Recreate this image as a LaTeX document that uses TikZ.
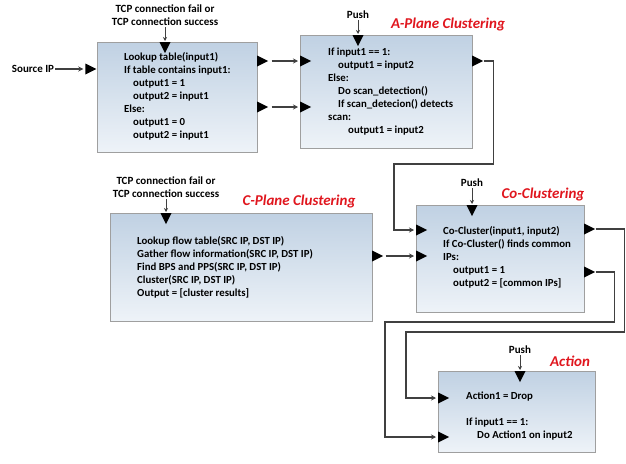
\documentclass[tikz,border=0pt]{standalone}
\usepackage{fontspec}
\setmainfont{Carlito}
\usetikzlibrary{shapes.geometric, arrows.meta}

\definecolor{boxtop}{HTML}{C0D1E3}
\definecolor{boxbot}{HTML}{EEF3F8}
\definecolor{wirec}{HTML}{404040}
\definecolor{titlered}{HTML}{E0161E}

\begin{document}
\begin{tikzpicture}[x = 1pt, y = -1pt,
  block/.style = {draw=gray!75, line width=0.6pt, top color=boxtop, bottom color=boxbot, anchor=north west, inner sep=0pt},
  code/.style = {anchor=north west, align=left, inner sep=0pt, font=\fontsize{10.8}{13}\selectfont\bfseries},
  lbl/.style = {align=center, inner sep=1pt, font=\fontsize{11}{13.5}\selectfont\bfseries},
  title/.style = {text=titlered, font=\fontsize{15}{17}\selectfont\bfseries\itshape},
  port/.style = {isosceles triangle, isosceles triangle stretches, fill=black, inner sep=0pt, minimum width=11pt, minimum height=11pt},
  dport/.style = {port, shape border rotate=270},
  wire/.style = {draw=wirec, line width=1.3pt, -{Stealth[length=5pt, width=5pt]}, shorten >=2pt},
  thinwire/.style = {draw=wirec, line width=0.8pt, -{Stealth[length=4pt, width=4pt]}, shorten >=1pt}]

\useasboundingbox (0, 0) rectangle (626, 463);

% boxes
\node[block, minimum width=160pt, minimum height=110pt] (lookup) at (97, 42) {};
\node[block, minimum width=172pt, minimum height=113pt] (aplane) at (300, 35) {};
\node[block, minimum width=262pt, minimum height=108pt] (cplane) at (110, 213) {};
\node[block, minimum width=168pt, minimum height=107pt] (cocl) at (416, 205) {};
\node[block, minimum width=157pt, minimum height=81pt] (action) at (438, 371) {};

\node[code] (lookuptxt) at (124, 52) {Lookup table(input1)\\ If table contains input1:\\ \hspace*{9pt}output1 = 1\\ \hspace*{9pt}output2 = input1\\ Else:\\ \hspace*{9pt}output1 = 0\\ \hspace*{9pt}output2 = input1};
\node[code] (aplanetxt) at (328, 48) {If input1 == 1:\\ \hspace*{10pt}output1 = input2\\ Else:\\ \hspace*{10pt}Do scan\_detection()\\ \hspace*{10pt}If scan\_detecion() detects\\ scan:\\ \hspace*{20pt}output1 = input2};
\node[code] (cplanetxt) at (137, 236) {Lookup flow table(SRC IP, DST IP)\\ Gather flow information(SRC IP, DST IP)\\ Find BPS and PPS(SRC IP, DST IP)\\ Cluster(SRC IP, DST IP)\\ Output = [cluster results]};
\node[code] (cocltxt) at (443, 226) {Co-Cluster(input1, input2)\\ If Co-Cluster() finds common\\ IPs:\\ \hspace*{10pt}output1 = 1\\ \hspace*{10pt}output2 = [common IPs]};
\node[code] (actiontxt) at (466, 392) {Action1 = Drop\\[13pt] If input1 == 1:\\ \hspace*{11pt}Do Action1 on input2};

% titles and labels
\node[title] (aptitle) at (448, 25) {A-Plane Clustering};
\node[title] (cptitle) at (299, 201) {C-Plane Clustering};
\node[title] (cotitle) at (543, 194) {Co-Clustering};
\node[title] (actitle) at (570, 361) {Action};

\node[lbl] (srcip) at (33, 69) {Source IP};
\node[lbl] (tcpA) at (165, 15) {TCP connection fail or\\ TCP connection success};
\node[lbl] (tcpB) at (166, 187) {TCP connection fail or\\ TCP connection success};
\node[lbl] (pushA) at (358, 15) {Push};
\node[lbl] (pushB) at (472, 183) {Push};
\node[lbl] (pushC) at (520, 350) {Push};

% ports
\node[port, anchor=east] (lkin) at (97, 69) {};
\node[dport, anchor=north] (lktop) at (165, 42) {};
\node[port, anchor=west] (lkout1) at (257, 61) {};
\node[port, anchor=west] (lkout2) at (257, 107) {};

\node[port, anchor=west] (apin1) at (300, 61) {};
\node[port, anchor=west] (apin2) at (300, 107) {};
\node[dport, anchor=north] (aptop) at (358, 35) {};
\node[port, anchor=west] (apout) at (472, 61) {};

\node[dport, anchor=north] (cptop) at (166, 213) {};
\node[port, anchor=west] (cpout) at (372, 256) {};

\node[port, anchor=west] (coin1) at (416, 230) {};
\node[port, anchor=west] (coin2) at (416, 256) {};
\node[dport, anchor=north] (cotop) at (472, 205) {};
\node[port, anchor=west] (coout1) at (584, 229) {};
\node[port, anchor=west] (coout2) at (584, 272) {};

\node[dport, anchor=north] (actop) at (520, 371) {};
\node[port, anchor=west] (acin1) at (438, 398) {};
\node[port, anchor=west] (acin2) at (438, 437) {};

% connectors
\draw[thinwire] (tcpA.south) -- (lktop.north);
\draw[thinwire] (tcpB.south) -- (cptop.north);
\draw[thinwire] (pushA.south) -- (aptop.north);
\draw[thinwire] (pushB.south) -- (cotop.north);
\draw[thinwire] (pushC.south) -- (actop.north);

\draw[wire] (srcip.east) -- (lkin.west);
\draw[wire, shorten <=3pt] (lkout1.east) -- (apin1.west);
\draw[wire, shorten <=3pt] (lkout2.east) -- (apin2.west);
\draw[wire, shorten <=2pt] (cpout.east) -- (coin2.west);

\coordinate (laneA) at (394, 164);
\coordinate (laneC) at (406, 332);
\coordinate (laneD) at (385, 322);
\draw[wire] (apout.east) -- ++(10, 0) |- (laneA) |- (coin1.west);
\draw[wire] (coout1.east) -- ++(29, 0) |- (laneC) |- (acin1.west);
\draw[wire] (coout2.east) -- ++(19, 0) |- (laneD) |- (acin2.west);

\end{tikzpicture}
\end{document}
